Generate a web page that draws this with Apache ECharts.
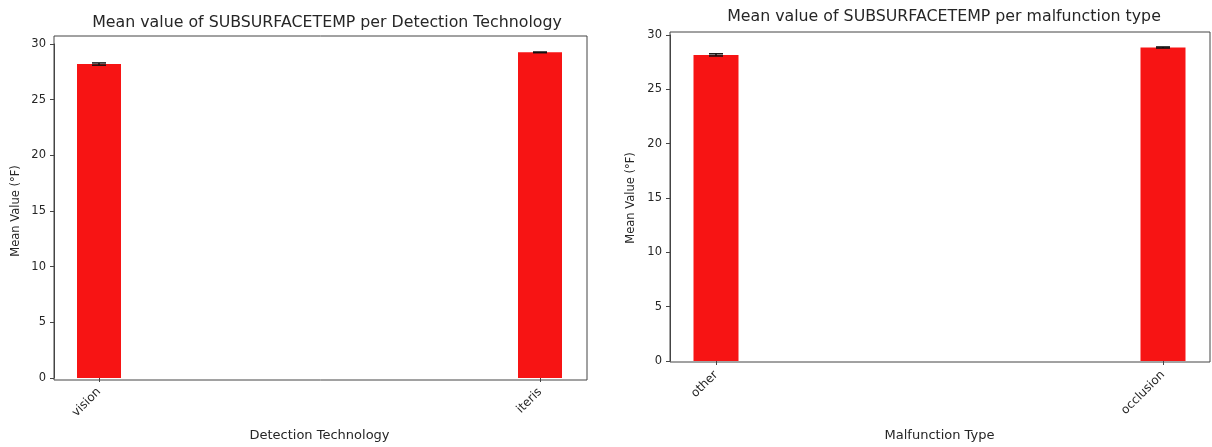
<!DOCTYPE html>
<html>
<head>
<meta charset="utf-8">
<script src="https://cdn.jsdelivr.net/npm/echarts@6/dist/echarts.min.js"></script>
<style>
  html, body { margin: 0; padding: 0; background: #fff; }
  #chart { width: 1212px; height: 447px; }
</style>
</head>
<body>
<div id="chart"></div>
<script>
// left panel: detection technology
const techCategories = ['vision', 'iteris'];
const techMeans = [28.2, 29.25];
const techErr = [0.1, 0.03];

// right panel: malfunction type
const malCategories = ['other', 'occlusion'];
const malMeans = [28.17, 28.85];
const malErr = [0.1, 0.05];

const RED = '#f71414';
const TXT = '#262626';
const AXIS = '#444';
const FONT = 'DejaVu Sans';

// empty axes for the frame grids (they only draw the box)
function hiddenAxis(idx) {
    return { type: 'value', gridIndex: idx, show: false, min: 0, max: 1 };
}

function catAxis(idx, cats, name, gap) {
    return {
        type: 'category', gridIndex: idx, data: cats, boundaryGap: false,
        name: name, nameLocation: 'middle', nameGap: gap,
        nameTextStyle: { color: TXT, fontSize: 13, fontFamily: FONT },
        axisLine: { show: false },
        axisTick: { show: true, alignWithLabel: true, length: 4, lineStyle: { color: AXIS } },
        axisLabel: { rotate: 45, color: TXT, fontSize: 12, fontFamily: FONT, margin: 12, interval: 0 },
        splitLine: { show: false }
    };
}

function valAxis(idx, offset, gap) {
    return {
        type: 'value', gridIndex: idx, min: 0, max: 30, interval: 5, offset: offset,
        name: 'Mean Value (°F)', nameLocation: 'middle', nameGap: gap,
        nameTextStyle: { color: TXT, fontSize: 11.5, fontFamily: FONT },
        axisLine: { show: true, lineStyle: { color: AXIS, width: 1 } },
        axisTick: { show: true, length: 4, lineStyle: { color: AXIS } },
        axisLabel: { color: TXT, fontSize: 11.5, fontFamily: FONT, margin: 8 },
        splitLine: { show: false }
    };
}

function errorSeries(idx, means, errs) {
    return {
        type: 'custom', xAxisIndex: idx, yAxisIndex: idx, z: 5, clip: false,
        encode: { x: 0, y: [1, 2] },
        data: means.map((m, i) => [i, m - errs[i], m + errs[i]]),
        renderItem: function (params, api) {
            const lo = api.coord([api.value(0), api.value(1)]);
            const hi = api.coord([api.value(0), api.value(2)]);
            const cap = 7;
            const st = { stroke: '#111', lineWidth: 1.5 };
            return {
                type: 'group',
                children: [
                    { type: 'line', shape: { x1: lo[0], y1: lo[1], x2: hi[0], y2: hi[1] }, style: st },
                    { type: 'line', shape: { x1: lo[0] - cap, y1: lo[1], x2: lo[0] + cap, y2: lo[1] }, style: st },
                    { type: 'line', shape: { x1: hi[0] - cap, y1: hi[1], x2: hi[0] + cap, y2: hi[1] }, style: st }
                ]
            };
        }
    };
}

const options = {
    backgroundColor: '#fff',
    animation: false,
    textStyle: { fontFamily: FONT },
    title: [
        {
            text: 'Mean value of SUBSURFACETEMP per Detection Technology',
            left: 322, top: 10, textAlign: 'center',
            textStyle: { color: TXT, fontSize: 15.8, fontWeight: 'normal', fontFamily: FONT }
        },
        {
            text: 'Mean value of SUBSURFACETEMP per malfunction type',
            left: 939, top: 4, textAlign: 'center',
            textStyle: { color: TXT, fontSize: 15.8, fontWeight: 'normal', fontFamily: FONT }
        }
    ],
    grid: [
        // frames
        { left: 54, right: 625, top: 36, bottom: 67, show: true, borderColor: AXIS, borderWidth: 1 },
        { left: 670, right: 2, top: 32, bottom: 85, show: true, borderColor: AXIS, borderWidth: 1 },
        // data areas: categories sit on the left/right edges, 30 at the top
        { left: 99, right: 672, top: 44, bottom: 67 },
        { left: 716, right: 49, top: 35, bottom: 85 }
    ],
    xAxis: [
        hiddenAxis(0),
        hiddenAxis(1),
        catAxis(2, techCategories, 'Detection Technology', 51),
        catAxis(3, malCategories, 'Malfunction Type', 68)
    ],
    yAxis: [
        hiddenAxis(0),
        hiddenAxis(1),
        valAxis(2, 45, 32),
        valAxis(3, 46, 33)
    ],
    series: [
        {
            type: 'bar', xAxisIndex: 2, yAxisIndex: 2, barWidth: 44,
            itemStyle: { color: RED },
            data: techMeans
        },
        errorSeries(2, techMeans, techErr),
        {
            type: 'bar', xAxisIndex: 3, yAxisIndex: 3, barWidth: 45,
            itemStyle: { color: RED },
            data: malMeans
        },
        errorSeries(3, malMeans, malErr)
    ]
};

const E = echarts.init(document.getElementById('chart'));
E.setOption(options);
window.onresize = function () {
    E.resize();
};
</script>
</body>
</html>
